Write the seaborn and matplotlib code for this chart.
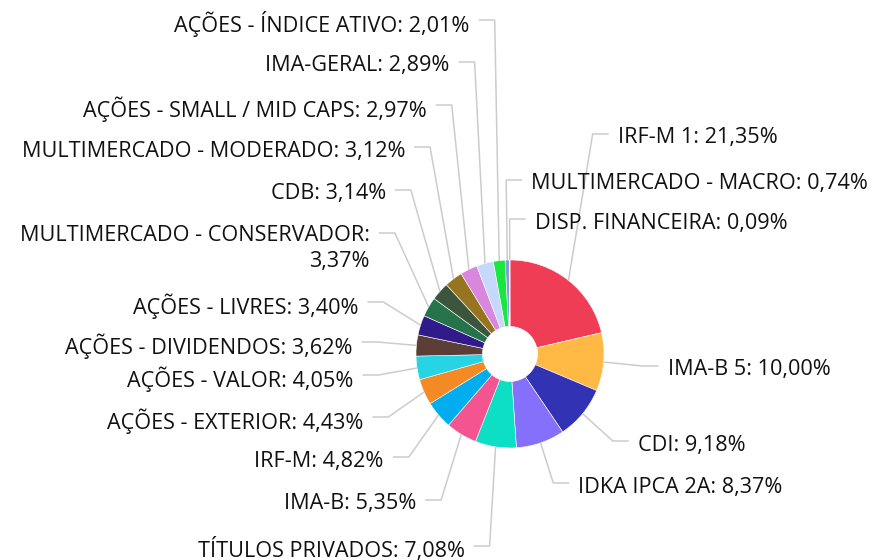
import numpy as np
import matplotlib
matplotlib.use("Agg")
import matplotlib.pyplot as plt
import seaborn as sns

# allocation by segment (%), clockwise from the top
categories = ['IRF-M 1', 'IMA-B 5', 'CDI', 'IDKA IPCA 2A', 'TÍTULOS PRIVADOS', 'IMA-B',
              'IRF-M', 'AÇÕES - EXTERIOR', 'AÇÕES - VALOR', 'AÇÕES - DIVIDENDOS',
              'AÇÕES - LIVRES', 'MULTIMERCADO - CONSERVADOR', 'CDB',
              'MULTIMERCADO - MODERADO', 'AÇÕES - SMALL / MID CAPS', 'IMA-GERAL',
              'AÇÕES - ÍNDICE ATIVO', 'MULTIMERCADO - MACRO', 'DISP. FINANCEIRA']
values = [21.35, 10.00, 9.18, 8.37, 7.08, 5.35, 4.82, 4.43, 4.05, 3.62,
          3.40, 3.37, 3.14, 3.12, 2.97, 2.89, 2.01, 0.74, 0.09]
colors = ['#ee3d54', '#ffb944', '#3232b5', '#8570fb', '#0cdfc4', '#f45490',
          '#00aeef', '#f48a24', '#26d4e3', '#5b3e36', '#311b8b', '#26734b',
          '#3c563d', '#977420', '#d986de', '#c6d8fb', '#1ae640', '#8a9ad8', '#c9a0c9']

# label heights (px from top), after the labels were spread out
label_y = [134, 366, 441, 483, 546, 500, 457, 417, 375, 342,
           302, 233, 190, 147, 105, 62, 20, 180, 219]

sns.set_theme(style="white")
plt.rcParams['font.family'] = ['Open Sans', 'DejaVu Sans']

W, H = 874, 560
fig = plt.figure(figsize=(W / 100, H / 100), dpi=100)
ax = fig.add_axes([0, 0, 1, 1])

cx, cy = 510, H - 354
R, r = 94, 27.5
wedges, _ = ax.pie(values, colors=colors, startangle=90, counterclock=False,
                   radius=R, center=(cx, cy),
                   wedgeprops=dict(width=R - r, edgecolor='white', linewidth=0.4))
ax.set_xlim(0, W)
ax.set_ylim(0, H)
ax.set_aspect('equal')
ax.axis('off')

line_color = '#cccccc'
fs = 15.6
for w, name, v, ly in zip(wedges, categories, values, label_y):
    mid = np.deg2rad((w.theta1 + w.theta2) / 2)
    ex, ey = cx + R * np.cos(mid), cy + R * np.sin(mid)
    kx, ky = cx + 133 * np.cos(mid), H - ly
    s = -1 if np.cos(mid) < -0.05 else 1
    hx = kx + s * 16
    ax.plot([ex, kx, hx], [ey, ky, ky], color=line_color, lw=1.1,
            solid_capstyle='butt', zorder=1)

    txt = name + ': ' + f'{v:.2f}'.replace('.', ',') + '%'
    ha = 'right' if s < 0 else 'left'
    tx = hx + s * 9
    if len(txt) > 31:
        head, tail = txt.rsplit(' ', 1)
        ax.text(tx, ky + 8, head + '\n' + tail, ha=ha, va='top', ma=ha,
                fontsize=fs, color='#111111', linespacing=1.32)
    else:
        ax.text(tx, ky - 4, txt, ha=ha, va='center', fontsize=fs, color='#111111')

fig.savefig('out.png', dpi=100)
